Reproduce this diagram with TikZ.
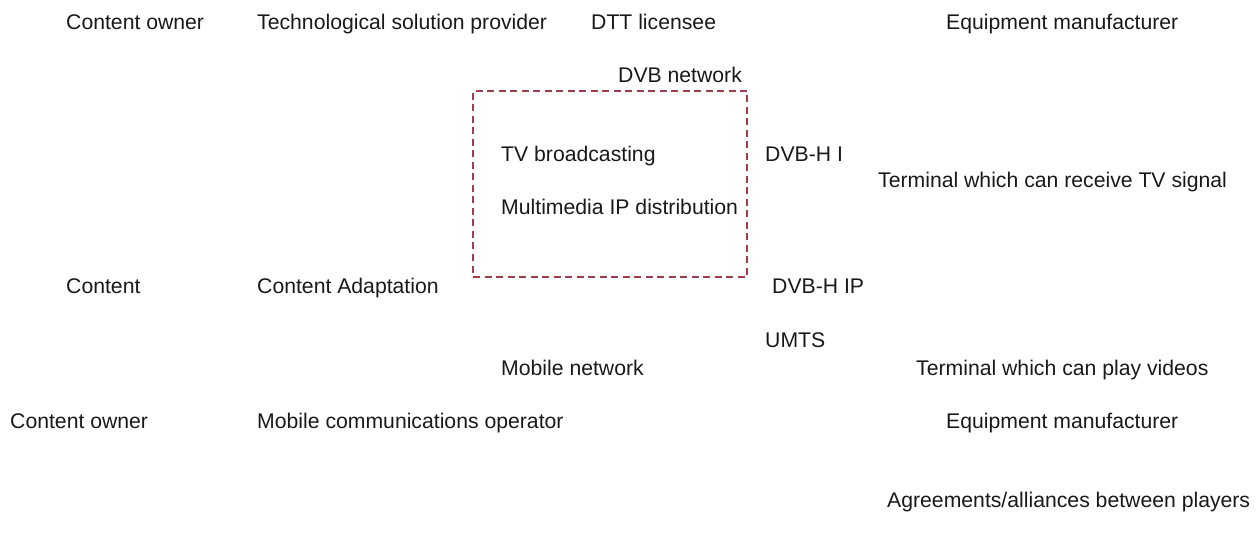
\documentclass[tikz,border=0pt]{standalone}
\usepackage{fontspec}
\setmainfont{Liberation Sans}
\definecolor{boxred}{RGB}{160,62,72}
\begin{document}
\begin{tikzpicture}[x=1pt,y=-1pt,
  lbl/.style={anchor=base west,inner sep=0pt,font=\fontsize{21.2}{24}\selectfont,text=black!90},
  netbox/.style={draw=boxred,line width=1.2pt,dash pattern=on 7pt off 4.5pt,minimum width=274pt,minimum height=186pt,inner sep=0pt}]
\useasboundingbox (0,0) rectangle (1259,540);
% row 1
\node[lbl] (co1) at (66,29.5) {Content owner};
\node[lbl] (tsp) at (257,29.5) {Technological solution provider};
\node[lbl] (dtt) at (591,29.5) {DTT licensee};
\node[lbl] (em1) at (946,29.5) {Equipment manufacturer};
% DVB network
\node[lbl] (dvbnet) at (618,82.5) {DVB network};
\node[netbox] (dvbbox) at (610,184) {};
\node[lbl] (tvb) at (501,161.5) {TV broadcasting};
\node[lbl] (mip) at (501,214.5) {Multimedia IP distribution};
\node[lbl] (dvbhi) at (765,161.5) {DVB-H I};
\node[lbl] (termtv) at (878,188) {Terminal which can receive TV signal};
% middle row
\node[lbl] (cont) at (66,294) {Content};
\node[lbl] (cad) at (257,294) {Content Adaptation};
\node[lbl] (dvbhip) at (772,294) {DVB-H IP};
\node[lbl] (umts) at (765,347) {UMTS};
\node[lbl] (mobnet) at (501,375) {Mobile network};
\node[lbl] (termvid) at (916,375) {Terminal which can play videos};
% lower row
\node[lbl] (co2) at (10,428) {Content owner};
\node[lbl] (mco) at (257,428) {Mobile communications operator};
\node[lbl] (em2) at (946,428) {Equipment manufacturer};
\node[lbl] (agr) at (887,507) {Agreements/alliances between players};
\end{tikzpicture}
\end{document}
